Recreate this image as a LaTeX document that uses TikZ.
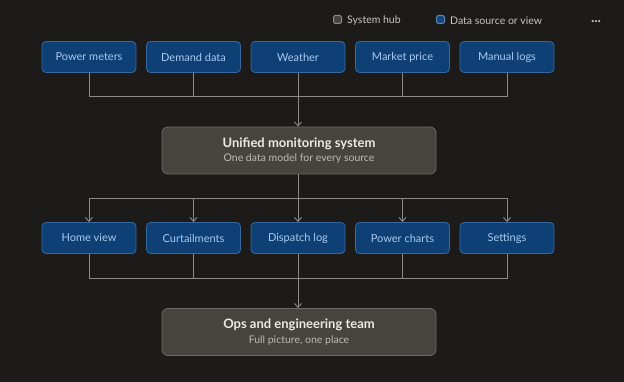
\documentclass[tikz,border=0pt]{standalone}
\usepackage{fontspec}
\setmainfont{Lato}
\usetikzlibrary{arrows.meta,positioning,calc}
\definecolor{bgdark}{HTML}{1C1B1A}
\definecolor{srcfill}{HTML}{0E4076}
\definecolor{srcdraw}{HTML}{3468A0}
\definecolor{srctext}{HTML}{A9C9F0}
\definecolor{hubfill}{HTML}{45443F}
\definecolor{hubdraw}{HTML}{6C6B65}
\definecolor{hubtitle}{HTML}{ECEAE4}
\definecolor{hubsub}{HTML}{BEBBB3}
\definecolor{wire}{HTML}{8C8A84}
\definecolor{legtext}{HTML}{C8C6C0}

\begin{document}
\begin{tikzpicture}[x=1pt, y=-1pt,
        node distance=9.7pt,
        src/.style={draw=srcdraw, fill=srcfill, rounded corners=4pt, minimum width=94pt, minimum height=31pt, text=srctext, font=\fontsize{11}{13}\selectfont, line width=0.8pt},
        hub/.style={draw=hubdraw, fill=hubfill, rounded corners=6pt, minimum width=274pt, minimum height=47pt, align=center, line width=0.8pt},
        wireline/.style={draw=wire, line width=0.9pt},
        wirearrow/.style={wireline, -{Straight Barb[length=4pt, width=7pt]}},
        legbox/.style={rounded corners=1.5pt, minimum size=8pt, inner sep=0pt, line width=1pt},
        legtxt/.style={text=legtext, font=\fontsize{10.5}{12}\selectfont, anchor=west, inner sep=0pt}]
        \fill[bgdark] (0,0) rectangle (624,382);
        \useasboundingbox (0,0) rectangle (624,382);
        % legend
        \node[legbox, draw=wire, fill=hubfill] (leghub) at (337.5,19.5) {};
        \node[legtxt, right=5pt of leghub, yshift=-1pt] (leghubtxt) {System hub};
        \node[legbox, draw=srcdraw!80!white, fill=srcfill!80!srcdraw] (legsrc) at (440.5,19.5) {};
        \node[legtxt, right=5pt of legsrc, yshift=-1pt] (legsrctxt) {Data source or view};
        \node[text=legtext, font=\fontsize{14}{14}\selectfont\bfseries] (more) at (596,22) {...};
        % sources
        \node[src] (power) at (89,57) {Power meters};
        \node[src, right=of power] (demand) {Demand data};
        \node[src, right=of demand] (weather) {Weather};
        \node[src, right=of weather] (market) {Market price};
        \node[src, right=of market] (manual) {Manual logs};
        % hub
        \node[hub] (unified) at (299,150.5) {{\fontsize{13}{15}\selectfont\bfseries\color{hubtitle} Unified monitoring system}\\[2.5pt]{\fontsize{10.5}{12}\selectfont\color{hubsub} One data model for every source}};
        % views
        \node[src] (home) at (89,238) {Home view};
        \node[src, right=of home] (curtail) {Curtailments};
        \node[src, right=of curtail] (dispatch) {Dispatch log};
        \node[src, right=of dispatch] (charts) {Power charts};
        \node[src, right=of charts] (settings) {Settings};
        % team
        \node[hub] (team) at (299,332) {{\fontsize{13}{15}\selectfont\bfseries\color{hubtitle} Ops and engineering team}\\[2.5pt]{\fontsize{10.5}{12}\selectfont\color{hubsub} Full picture, one place}};
        % wiring
        \coordinate (busin) at ($(weather.south)+(0,24)$);
        \coordinate (busout) at ($(dispatch.north)+(0,-24)$);
        \coordinate (busteam) at ($(dispatch.south)+(0,25)$);
        \draw[wireline] (power.south) |- (busin);
        \draw[wireline] (demand.south) |- (busin);
        \draw[wireline] (market.south) |- (busin);
        \draw[wireline] (manual.south) |- (busin);
        \draw[wirearrow] (weather.south) -- (weather.south |- unified.north);
        \foreach \v in {home, curtail, charts, settings}
          \draw[wirearrow] (busout) -| (\v.north);
        \draw[wirearrow] (dispatch.south |- unified.south) -- (dispatch.north);
        \foreach \v in {home, curtail, charts, settings}
          \draw[wireline] (\v.south) |- (busteam);
        \draw[wirearrow] (dispatch.south) -- (dispatch.south |- team.north);
      \end{tikzpicture}
\end{document}
